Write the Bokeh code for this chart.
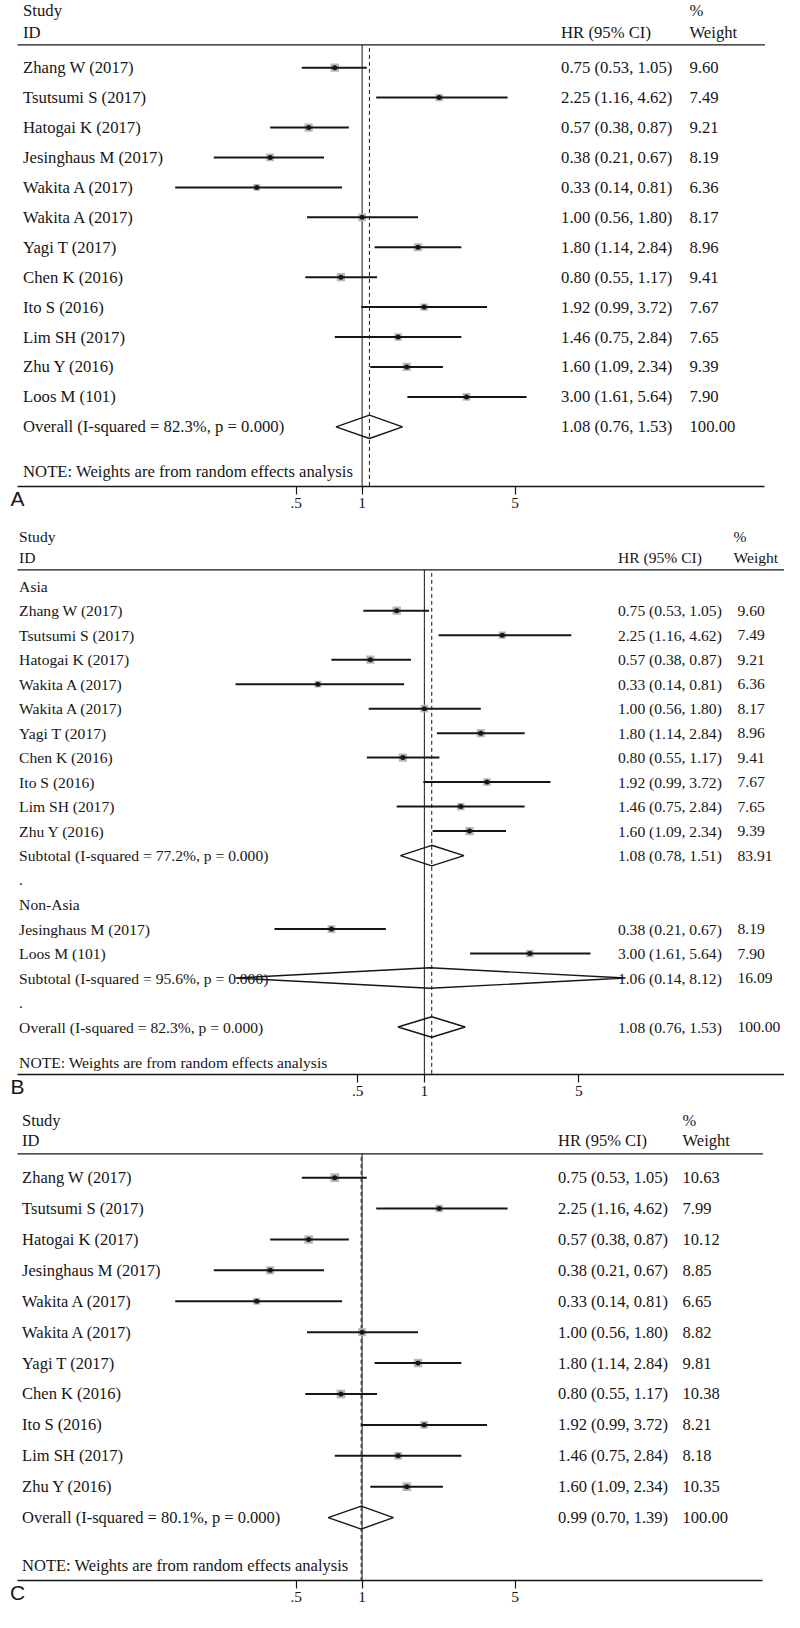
import math
from bokeh.plotting import figure
from bokeh.models import Range1d, FixedTicker, ColumnDataSource
from bokeh.layouts import column
from bokeh.embed import file_html
from bokeh.resources import INLINE
from bokeh.core.properties import value

# ------------------------------------------------------------------ data
study_names = ["Zhang W  (2017)", "Tsutsumi S   (2017)", "Hatogai K (2017)",
               "Jesinghaus M (2017)", "Wakita A   (2017)", "Wakita A   (2017)",
               "Yagi T  (2017)", "Chen K (2016)", "Ito S (2016)", "Lim SH (2017)",
               "Zhu Y (2016)", "Loos M (101)"]
hr_est = [0.75, 2.25, 0.57, 0.38, 0.33, 1.00, 1.80, 0.80, 1.92, 1.46, 1.60, 3.00]
hr_low = [0.53, 1.16, 0.38, 0.21, 0.14, 0.56, 1.14, 0.55, 0.99, 0.75, 1.09, 1.61]
hr_high = [1.05, 4.62, 0.87, 0.67, 0.81, 1.80, 2.84, 1.17, 3.72, 2.84, 2.34, 5.64]
weights_A = [9.60, 7.49, 9.21, 8.19, 6.36, 8.17, 8.96, 9.41, 7.67, 7.65, 9.39, 7.90]

asia_order = [0, 1, 2, 4, 5, 6, 7, 8, 9, 10]
weights_B_asia = [9.60, 7.49, 9.21, 6.36, 8.17, 8.96, 9.41, 7.67, 7.65, 9.39]
nonasia_order = [3, 11]
weights_B_nonasia = [8.19, 7.90]

c_order = [0, 1, 2, 3, 4, 5, 6, 7, 8, 9, 10]
weights_C = [10.63, 7.99, 10.12, 8.85, 6.65, 8.82, 9.81, 10.38, 8.21, 8.18, 10.35]

overall_A = [1.08, 0.76, 1.53, 100.00]
overall_A_label = "Overall  (I-squared = 82.3%, p = 0.000)"
subtotal_asia = [1.08, 0.78, 1.51, 83.91]
subtotal_asia_label = "Subtotal  (I-squared = 77.2%, p = 0.000)"
subtotal_nonasia = [1.06, 0.14, 8.12, 16.09]
subtotal_nonasia_label = "Subtotal  (I-squared = 95.6%, p = 0.000)"
overall_B = [1.08, 0.76, 1.53, 100.00]
overall_B_label = "Overall  (I-squared = 82.3%, p = 0.000)"
overall_C = [0.99, 0.70, 1.39, 100.00]
overall_C_label = "Overall  (I-squared = 80.1%, p = 0.000)"

group_labels = ["Asia", "Non-Asia"]
panel_letters = ["A", "B", "C"]
tick_values = [0.5, 1, 5]
tick_labels = [".5", "1", "5"]
note_text = "NOTE: Weights are from random effects analysis"

# ------------------------------------------------------------------ layout
REF_W = 800
FIG_W = 784
SX = FIG_W / REF_W
LEFT_PAD = 17                      # left border that carries the panel letter
SY = 0.9875
SERIF = "Liberation Serif"
INK = "#161616"
BOX = 2.7


def study_row(i, w):
    return dict(kind="study", label=study_names[i], est=hr_est[i], lo=hr_low[i],
                hi=hr_high[i], w=w)


def pooled_row(vals, label):
    return dict(kind="pooled", label=label, est=vals[0], lo=vals[1], hi=vals[2], w=vals[3])


def label_row(s):
    return dict(kind="label", label=s)


def make_panel(cfg, rows, pooled, letter):
    x1, k, y0, dy = cfg["x1"], cfg["k"], cfg["y0"], cfg["dy"]
    top, bot = cfg["top"], cfg["bottom"]

    def X(px):
        return math.exp((px - x1) / k)

    def R(py):
        return (py - y0) / dy

    left_ref = LEFT_PAD / SX
    p = figure(frame_width=FIG_W - LEFT_PAD, frame_height=round((bot - top) * SY),
               x_axis_type="log", x_range=Range1d(X(left_ref), X(REF_W)),
               y_range=Range1d(R(bot), R(top)), y_axis_location=None,
               toolbar_location=None, output_backend="svg",
               min_border_left=LEFT_PAD, min_border_right=0, min_border_top=0,
               min_border_bottom=round(cfg["axis_h"] * SY),
               outline_line_color=None, background_fill_color="white",
               border_fill_color="white")
    p.grid.visible = False
    ax = p.xaxis[0]
    ax.ticker = FixedTicker(ticks=tick_values, minor_ticks=[])
    ax.major_label_overrides = {v: s for v, s in zip(tick_values, tick_labels)}
    ax.bounds = (X(cfg["rule"][0]), X(cfg["rule"][1]))
    ax.axis_line_color = INK
    ax.axis_line_width = 1.3
    ax.major_tick_line_color = INK
    ax.major_tick_line_width = 1.2
    ax.major_tick_out = 8
    ax.major_tick_in = 0
    ax.minor_tick_line_color = None
    ax.major_label_standoff = 3
    ax.major_label_text_font = SERIF
    ax.major_label_text_font_size = "15.5px"
    ax.major_label_text_color = INK
    # panel letter carried by the axis label, placed at the start of the axis
    ax.axis_label = letter
    ax.axis_label_text_font = "Liberation Sans"
    ax.axis_label_text_font_size = "21px"
    ax.axis_label_text_font_style = "normal"
    ax.axis_label_text_color = INK
    ax.axis_label_standoff = -24
    try:
        ax.axis_label_align = "start"
    except AttributeError:
        pass

    # header rule
    rl, rr = cfg["rule"]
    p.segment(x0=[X(rl)], x1=[X(rr)], y0=[R(cfg["hline"])], y1=[R(cfg["hline"])],
              line_color=INK, line_width=1.3)
    # null line and pooled estimate line
    p.segment(x0=[1], x1=[1], y0=[R(cfg["hline"])], y1=[R(bot)],
              line_color=INK, line_width=1)
    p.segment(x0=[pooled], x1=[pooled], y0=[R(cfg["hline"] + 3)], y1=[R(bot)],
              line_color=INK, line_width=1, line_dash="4 3")

    studies = [(i, r) for i, r in enumerate(rows) if r["kind"] == "study"]
    src = ColumnDataSource(dict(
        row=[i for i, _ in studies],
        est=[r["est"] for _, r in studies],
        lo=[r["lo"] for _, r in studies],
        hi=[r["hi"] for _, r in studies],
        size=[BOX * math.sqrt(r["w"]) for _, r in studies]))
    p.scatter("est", "row", source=src, marker="square", size="size",
              fill_color="#b8b8b8", line_color=None)
    p.segment(x0="lo", x1="hi", y0="row", y1="row", source=src,
              line_color=INK, line_width=2)
    p.scatter("est", "row", source=src, marker="circle", size=5,
              fill_color=INK, line_color=None)

    dia = [(i, r) for i, r in enumerate(rows) if r["kind"] == "pooled"]
    h = cfg["dh"]
    p.patches(xs=[[r["lo"], r["est"], r["hi"], r["est"]] for _, r in dia],
              ys=[[i, i - h, i, i + h] for i, _ in dia],
              fill_color=None, line_color=INK, line_width=1.4)

    lx, cx, wx = cfg["cols"]
    tx, ty, tt = [], [], []

    def add(px, row, s):
        tx.append(X(px))
        ty.append(row)
        tt.append(s)

    add(lx, R(cfg["study_y"]), "Study")
    add(lx, R(cfg["id_y"]), "ID")
    add(cx, R(cfg["id_y"]), "HR (95% CI)")
    add(cfg["wh"], R(cfg["study_y"]), "%")
    add(cfg["wh"], R(cfg["id_y"]), "Weight")
    for i, r in enumerate(rows):
        add(lx, i, r["label"])
        if r["kind"] in ("study", "pooled"):
            add(cx, i, f"{r['est']:.2f} ({r['lo']:.2f}, {r['hi']:.2f})")
            add(wx, i, f"{r['w']:.2f}")
    add(lx, R(cfg["note_y"]), note_text)
    p.text(x=tx, y=ty, text=tt, text_font=value(SERIF), text_font_size=cfg["fs"],
           text_color=INK, text_baseline="middle", text_align="left")
    return p


cfg_A = dict(x1=369, k=97, y0=68, dy=30.3, top=0, bottom=492, axis_h=36, hline=45,
             rule=(10, 780), study_y=10, id_y=32, cols=(23, 572, 703), wh=703,
             note_y=477, fs="16.7px", dh=0.39)
cfg_B = dict(x1=432.5, k=98, y0=592.5, dy=24.8, top=528, bottom=1087, axis_h=35,
             hline=576, rule=(0, 800), study_y=542, id_y=563, cols=(19, 630, 752),
             wh=748, note_y=1075, fs="15.6px", dh=0.42)
cfg_C = dict(x1=369, k=97, y0=1191, dy=31.3, top=1122, bottom=1599, axis_h=30,
             hline=1167, rule=(10, 778), study_y=1133, id_y=1153, cols=(22, 569, 696),
             wh=696, note_y=1584, fs="16.5px", dh=0.37)

rows_A = [study_row(i, w) for i, w in zip(range(12), weights_A)]
rows_A.append(pooled_row(overall_A, overall_A_label))

rows_B = [label_row(group_labels[0])]
rows_B += [study_row(i, w) for i, w in zip(asia_order, weights_B_asia)]
rows_B.append(pooled_row(subtotal_asia, subtotal_asia_label))
rows_B.append(label_row("."))
rows_B.append(label_row(group_labels[1]))
rows_B += [study_row(i, w) for i, w in zip(nonasia_order, weights_B_nonasia)]
rows_B.append(pooled_row(subtotal_nonasia, subtotal_nonasia_label))
rows_B.append(label_row("."))
rows_B.append(pooled_row(overall_B, overall_B_label))

rows_C = [study_row(i, w) for i, w in zip(c_order, weights_C)]
rows_C.append(pooled_row(overall_C, overall_C_label))

pA = make_panel(cfg_A, rows_A, overall_A[0], panel_letters[0])
pB = make_panel(cfg_B, rows_B, overall_B[0], panel_letters[1])
pC = make_panel(cfg_C, rows_C, overall_C[0], panel_letters[2])

layout = column(pA, pB, pC, spacing=0)
open("out.html", "w").write(file_html(layout, INLINE))
